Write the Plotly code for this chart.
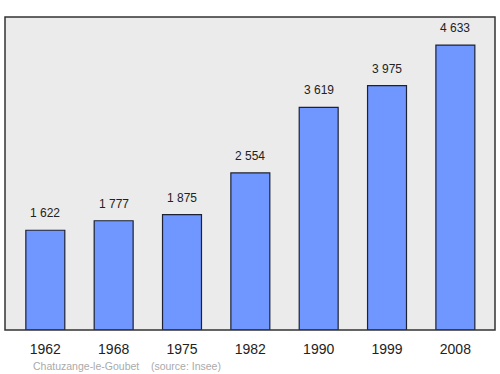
import plotly.graph_objects as go

years = ["1962", "1968", "1975", "1982", "1990", "1999", "2008"]
population = [1622, 1777, 1875, 2554, 3619, 3975, 4633]
labels = ["1 622", "1 777", "1 875", "2 554", "3 619", "3 975", "4 633"]

FONT = "Liberation Sans, Arial, sans-serif"

fig = go.Figure()
fig.add_trace(go.Bar(
    x=list(range(len(years))), y=population, width=0.57,
    marker=dict(color="#7096ff", line=dict(color="#1c2233", width=1.2)),
    hoverinfo="skip",
))

annots = [dict(x=i, y=v, text=t, xref="x", yref="y", showarrow=False,
               yanchor="middle", yshift=17,
               font=dict(family=FONT, size=12, color="#222222"))
          for i, (v, t) in enumerate(zip(population, labels))]
annots.append(dict(text="Chatuzange-le-Goubet    (source: Insee)", xref="paper", yref="paper",
                   x=0.053, y=-0.09, xanchor="left", yanchor="top", showarrow=False,
                   font=dict(family=FONT, size=10.5, color="#aaaaaa")))

fig.update_layout(
    width=500, height=374,
    margin=dict(l=5, r=5, t=17, b=44),
    paper_bgcolor="white", plot_bgcolor="#ebebeb",
    showlegend=False,
    xaxis=dict(range=[-0.59, 6.58], tickmode="array", tickvals=list(range(len(years))),
               ticktext=years, showgrid=False, zeroline=False, ticks="",
               ticklabelstandoff=9,
               tickfont=dict(family=FONT, size=14, color="#222222")),
    yaxis=dict(range=[0, 5090], showgrid=False, zeroline=False, showticklabels=False, ticks=""),
    shapes=[dict(type="rect", xref="paper", yref="paper", x0=0, x1=1, y0=0, y1=1,
                 line=dict(color="#333333", width=1.5), layer="above")],
    annotations=annots,
)
fig.write_html("out.html")
